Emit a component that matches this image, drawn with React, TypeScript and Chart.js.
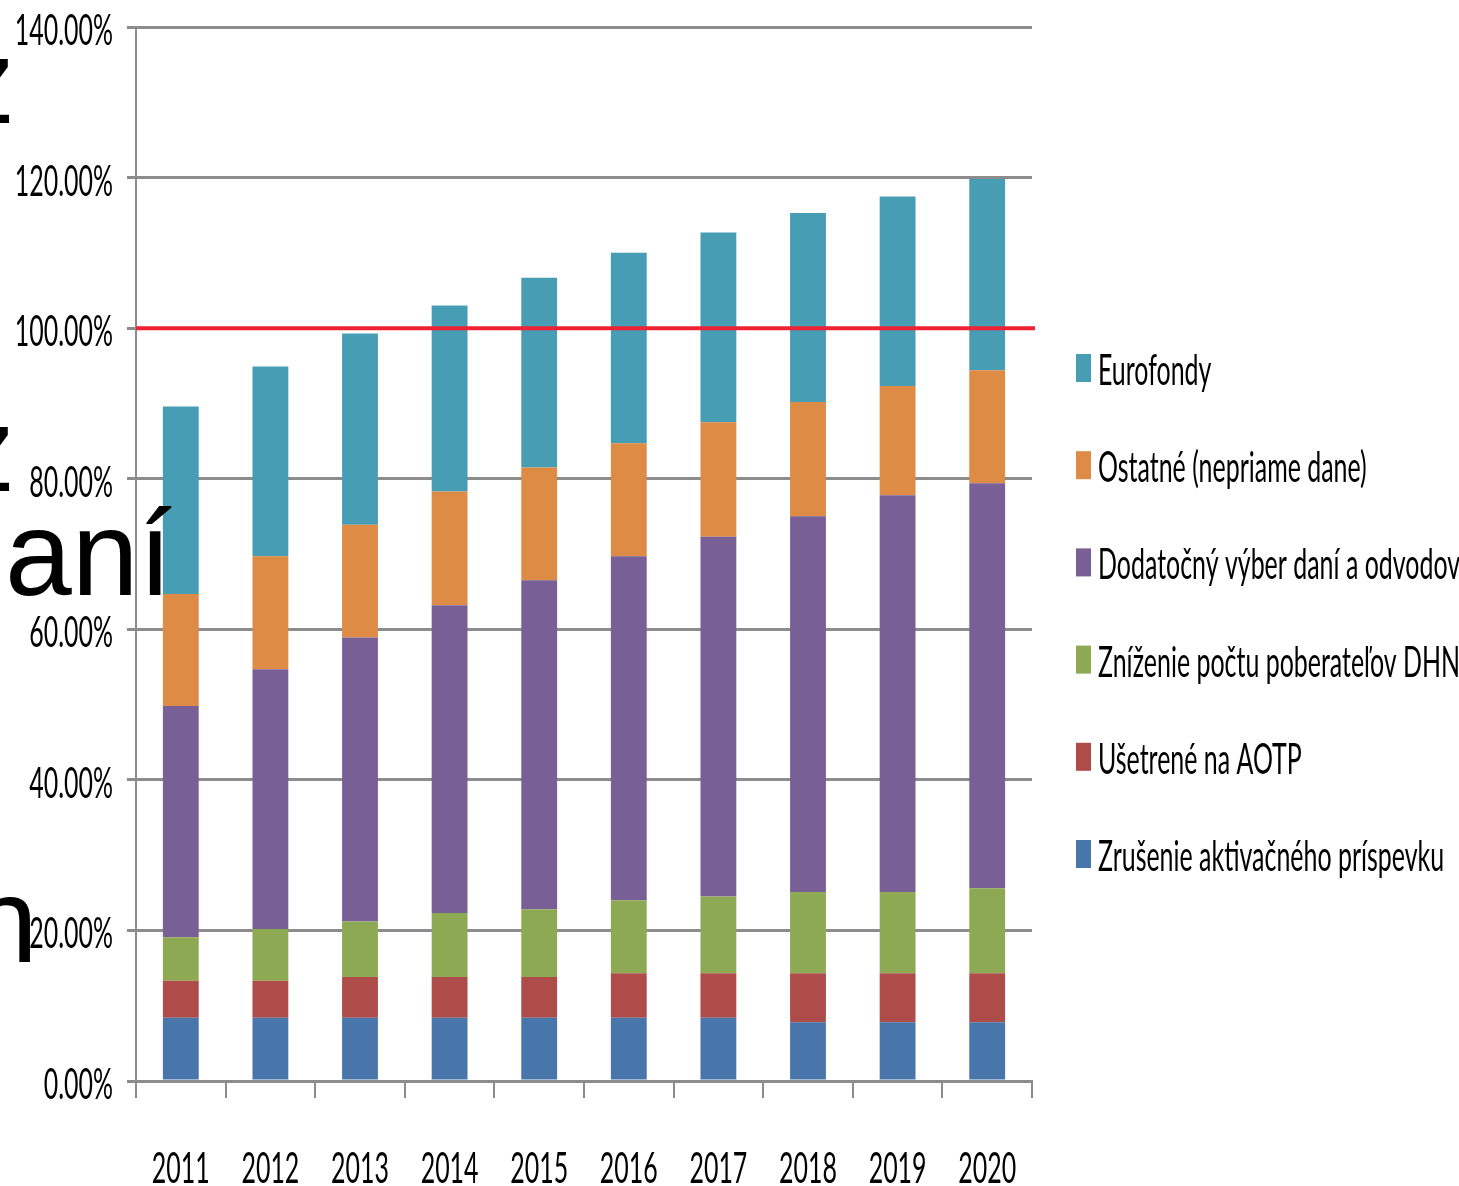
import React, { useEffect, useRef } from "react";
import { Chart, registerables } from "chart.js";

Chart.register(...registerables);

const years = ["2011", "2012", "2013", "2014", "2015", "2016", "2017", "2018", "2019", "2020"];
const zrusenie = [8.4, 8.4, 8.4, 8.4, 8.4, 8.4, 8.4, 7.8, 7.8, 7.8];
const usetrene = [4.9, 4.9, 5.4, 5.4, 5.4, 5.9, 5.9, 6.5, 6.5, 6.5];
const znizenie = [5.8, 6.9, 7.4, 8.5, 9.0, 9.7, 10.2, 10.8, 10.8, 11.3];
const dodatocny = [30.7, 34.5, 37.7, 40.9, 43.7, 45.7, 47.8, 49.9, 52.7, 53.8];
const ostatne = [14.9, 15.0, 15.0, 15.1, 15.0, 15.0, 15.2, 15.2, 14.5, 15.0];
const eurofondy = [24.9, 25.2, 25.4, 24.7, 25.2, 25.3, 25.2, 25.1, 25.2, 25.4];
const targetLine = 100;
const yMin = 0;
const yMax = 140;
const yStep = 20;

const seriesNames = [
  "Zrušenie aktivačného príspevku",
  "Ušetrené na AOTP",
  "Zníženie počtu poberateľov DHN",
  "Dodatočný výber daní a odvodov",
  "Ostatné (nepriame dane)",
  "Eurofondy",
];
const seriesColors = ["#4876AB", "#AE4C4A", "#8EA954", "#785F95", "#DD8B45", "#479DB4"];

const FONT = "Lato, 'Open Sans', sans-serif";
const FONT_SIZE = 43;
const SX = 0.58;

function drawText(ctx: CanvasRenderingContext2D, text: string, x: number, y: number, align: CanvasTextAlign) {
  ctx.save();
  ctx.translate(x, y);
  ctx.scale(SX, 1);
  ctx.textAlign = align;
  ctx.textBaseline = "alphabetic";
  ctx.fillText(text, 0, 0);
  ctx.restore();
}

const refLinePlugin = {
  id: "refLine",
  afterDatasetsDraw(chart: any) {
    const { ctx, chartArea } = chart;
    const y = chart.scales.y.getPixelForValue(targetLine);
    ctx.save();
    ctx.strokeStyle = "#EE2233";
    ctx.lineWidth = 4;
    ctx.beginPath();
    ctx.moveTo(chartArea.left, y);
    ctx.lineTo(chartArea.right + 3, y);
    ctx.stroke();
    ctx.restore();
  },
};

const textPlugin = {
  id: "condensedText",
  afterDraw(chart: any) {
    const ctx: CanvasRenderingContext2D = chart.ctx;
    const { left, bottom } = chart.chartArea;
    const ys = chart.scales.y;
    const xs = chart.scales.x;
    ctx.save();
    ctx.fillStyle = "#000";
    ctx.font = `${FONT_SIZE}px ${FONT}`;
    ys.ticks.forEach((t: any, i: number) => {
      const py = ys.getPixelForTick(i);
      drawText(ctx, Number(t.value).toFixed(2) + "%", left - 23, py + 18, "right");
    });
    xs.ticks.forEach((t: any, i: number) => {
      const px = xs.getPixelForTick(i);
      drawText(ctx, String(chart.data.labels[i]), px, bottom + 102, "center");
    });
    // legend (reverse order, top = last series)
    const legX = 1076;
    const legY0 = 354;
    const legStep = 97.2;
    const ds = chart.data.datasets;
    for (let k = 0; k < ds.length; k++) {
      const d = ds[ds.length - 1 - k];
      const top = legY0 + k * legStep;
      ctx.fillStyle = d.backgroundColor;
      ctx.fillRect(legX, top, 15, 28);
      ctx.fillStyle = "#000";
      drawText(ctx, d.label, legX + 22, top + 31, "left");
    }
    ctx.restore();
  },
};

export default function App() {
  const canvasRef = useRef<HTMLCanvasElement | null>(null);

  useEffect(() => {
    if (!canvasRef.current) return;
    const seriesData = [zrusenie, usetrene, znizenie, dodatocny, ostatne, eurofondy];
    const chart = new Chart(canvasRef.current, {
      type: "bar",
      data: {
        labels: years,
        datasets: seriesData.map((d, i) => ({
          label: seriesNames[i],
          data: d,
          backgroundColor: seriesColors[i],
          borderWidth: 0,
          barPercentage: 1,
          categoryPercentage: 0.4,
        })),
      },
      options: {
        animation: false,
        responsive: true,
        maintainAspectRatio: false,
        layout: { padding: { top: 27, right: 427, bottom: 0, left: 0 } },
        plugins: {
          legend: { display: false },
          tooltip: { enabled: false },
          title: { display: false },
        },
        scales: {
          x: {
            stacked: true,
            offset: true,
            grid: {
              offset: true,
              drawOnChartArea: false,
              drawTicks: true,
              tickLength: 17,
              color: "#8C8C8C",
              lineWidth: 2,
            },
            border: { display: true, color: "#8C8C8C", width: 3 },
            ticks: { display: false },
            afterFit: (scale: any) => {
              scale.height = 105;
            },
          },
          y: {
            stacked: true,
            min: yMin,
            max: yMax,
            ticks: { display: false, stepSize: yStep },
            grid: {
              color: "#8C8C8C",
              lineWidth: 3,
              drawTicks: true,
              tickLength: 9,
            },
            border: { display: true, color: "#8C8C8C", width: 2 },
            afterFit: (scale: any) => {
              scale.width = 136;
            },
          },
        },
      },
      plugins: [refLinePlugin, textPlugin],
    });
    return () => chart.destroy();
  }, []);

  const bigText: React.CSSProperties = {
    position: "absolute",
    fontFamily: "'Liberation Sans', Arial, sans-serif",
    fontSize: 120,
    lineHeight: "120px",
    color: "#000",
    whiteSpace: "nowrap",
    zIndex: 2,
    pointerEvents: "none",
  };

  return (
    <div
      style={{
        position: "absolute",
        left: 0,
        top: 0,
        width: 1459,
        height: 1186,
        overflow: "hidden",
        background: "#fff",
      }}
    >
      <canvas ref={canvasRef} style={{ position: "absolute", left: 0, top: 0 }} />
      <div style={{ ...bigText, left: -45, top: 21 }}>z</div>
      <div style={{ ...bigText, left: -45, top: 389 }}>z</div>
      <div style={{ ...bigText, left: 5, top: 493 }}>aní</div>
      <div style={{ ...bigText, left: -29, top: 860 }}>n</div>
    </div>
  );
}
